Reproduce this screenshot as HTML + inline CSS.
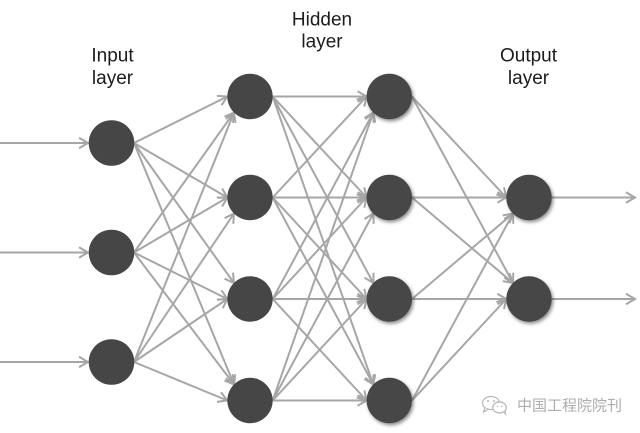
<!DOCTYPE html>
<html>
<head>
<meta charset="utf-8">
<style>
  html, body { margin: 0; padding: 0; background: #ffffff; }
  body { width: 640px; height: 433px; overflow: hidden; }
  svg { display: block; }
  .lbl { font-family: "Liberation Sans", Arial, sans-serif; font-size: 19px; fill: #1c1c1c; }
  .wm { font-family: "Liberation Sans", "Noto Sans CJK SC", sans-serif; font-size: 15px; fill: #acacac; }
</style>
</head>
<body>
<svg width="640" height="433" viewBox="0 0 640 433" xmlns="http://www.w3.org/2000/svg">
  <defs>
    <marker id="ah" markerUnits="userSpaceOnUse" viewBox="-12 -7 14 14" refX="0" refY="0" markerWidth="14" markerHeight="14" orient="auto" overflow="visible">
      <path d="M-9,-5.2 L0,0 L-9,5.2" fill="none" stroke="#a6a6a6" stroke-width="2"/>
    </marker>
    <filter id="sh" x="-40%" y="-40%" width="180%" height="180%">
      <feDropShadow dx="1.5" dy="2" stdDeviation="1.8" flood-color="#000" flood-opacity="0.45"/>
    </filter>
  </defs>

  <!-- labels -->
  <text class="lbl" x="112.5" y="61.5" text-anchor="middle">Input</text>
  <text class="lbl" x="112.5" y="84" text-anchor="middle">layer</text>
  <text class="lbl" x="322" y="25.5" text-anchor="middle">Hidden</text>
  <text class="lbl" x="322" y="47.5" text-anchor="middle">layer</text>
  <text class="lbl" x="528.5" y="61.5" text-anchor="middle">Output</text>
  <text class="lbl" x="528.5" y="84" text-anchor="middle">layer</text>

  <g stroke="#a6a6a6" stroke-width="2" fill="none" marker-end="url(#ah)">
    <!-- inputs -->
    <line x1="0" y1="143" x2="88" y2="143"/>
    <line x1="0" y1="252.5" x2="88" y2="252.5"/>
    <line x1="0" y1="362" x2="88" y2="362"/>

    <!-- input -> hidden1 -->
    <line x1="134" y1="143" x2="227.3" y2="96.5"/>
    <line x1="134" y1="252.5" x2="234" y2="112.5"/>
    <line x1="134" y1="362" x2="234" y2="112.5"/>
    <line x1="134" y1="143" x2="227.3" y2="197.5"/>
    <line x1="134" y1="252.5" x2="227.3" y2="197.5"/>
    <line x1="134" y1="362" x2="234" y2="213.5"/>
    <line x1="134" y1="143" x2="234" y2="283"/>
    <line x1="134" y1="252.5" x2="227.3" y2="299"/>
    <line x1="134" y1="362" x2="227.3" y2="299"/>
    <line x1="134" y1="143" x2="234" y2="384.5"/>
    <line x1="134" y1="252.5" x2="234" y2="384.5"/>
    <line x1="134" y1="362" x2="227.3" y2="400.5"/>

    <!-- hidden1 -> hidden2 -->
    <line x1="272.7" y1="96.5" x2="366.6" y2="96.5"/>
    <line x1="272.7" y1="197.5" x2="366.6" y2="96.5"/>
    <line x1="272.7" y1="299" x2="373.3" y2="112.5"/>
    <line x1="272.7" y1="400.5" x2="373.3" y2="112.5"/>

    <line x1="272.7" y1="96.5" x2="366.6" y2="197.5"/>
    <line x1="272.7" y1="197.5" x2="366.6" y2="197.5"/>
    <line x1="272.7" y1="299" x2="366.6" y2="197.5"/>
    <line x1="272.7" y1="400.5" x2="373.3" y2="213.5"/>

    <line x1="272.7" y1="96.5" x2="373.3" y2="283"/>
    <line x1="272.7" y1="197.5" x2="366.6" y2="299"/>
    <line x1="272.7" y1="299" x2="366.6" y2="299"/>
    <line x1="272.7" y1="400.5" x2="366.6" y2="299"/>

    <line x1="272.7" y1="96.5" x2="373.3" y2="384.5"/>
    <line x1="272.7" y1="197.5" x2="373.3" y2="384.5"/>
    <line x1="272.7" y1="299" x2="366.6" y2="400.5"/>
    <line x1="272.7" y1="400.5" x2="366.6" y2="400.5"/>

    <!-- hidden2 -> output -->
    <line x1="412" y1="96.5" x2="506.3" y2="197.5"/>
    <line x1="412" y1="197.5" x2="506.3" y2="197.5"/>
    <line x1="412" y1="299" x2="513" y2="213.5"/>
    <line x1="412" y1="400.5" x2="513" y2="213.5"/>

    <line x1="412" y1="96.5" x2="513" y2="283"/>
    <line x1="412" y1="197.5" x2="513" y2="283"/>
    <line x1="412" y1="299" x2="506.3" y2="299"/>
    <line x1="412" y1="400.5" x2="506.3" y2="299"/>

    <!-- outputs -->
    <line x1="551.7" y1="197.5" x2="635" y2="197.5"/>
    <line x1="551.7" y1="299" x2="635" y2="299"/>
  </g>

  <!-- nodes -->
  <g fill="#464646">
    <circle cx="111.5" cy="143" r="22.8"/>
    <circle cx="111.5" cy="252.5" r="22.8"/>
    <circle cx="111.5" cy="362" r="22.8"/>

    <circle cx="250" cy="96.5" r="22.7"/>
    <circle cx="250" cy="197.5" r="22.7"/>
    <circle cx="250" cy="299" r="22.7"/>
    <circle cx="250" cy="400.5" r="22.7"/>
  </g>
  <g fill="#464646" filter="url(#sh)">
    <circle cx="389.3" cy="96.5" r="22.7"/>
    <circle cx="389.3" cy="197.5" r="22.7"/>
    <circle cx="389.3" cy="299" r="22.7"/>
    <circle cx="389.3" cy="400.5" r="22.7"/>

    <circle cx="529" cy="197.5" r="22.7"/>
    <circle cx="529" cy="299" r="22.7"/>
  </g>

  <!-- watermark -->
  <g stroke="#b8b8b8" stroke-width="1.2" fill="#ffffff">
    <ellipse cx="491" cy="403" rx="8.5" ry="6.5"/>
    <path d="M485,408 L483.5,412 L488,409.5" fill="#ffffff"/>
    <ellipse cx="499.5" cy="407.5" rx="6.8" ry="5.5"/>
    <path d="M503.5,411.5 L505.5,414 L505,410" fill="#ffffff"/>
  </g>
  <g fill="#b8b8b8">
    <circle cx="488" cy="401" r="1"/>
    <circle cx="494" cy="401" r="1"/>
    <circle cx="497.5" cy="406.5" r="0.8"/>
    <circle cx="501.5" cy="406.5" r="0.8"/>
  </g>
  <text class="wm" x="517" y="410.5" textLength="105" lengthAdjust="spacingAndGlyphs">中国工程院院刊</text>
</svg>
</body>
</html>
